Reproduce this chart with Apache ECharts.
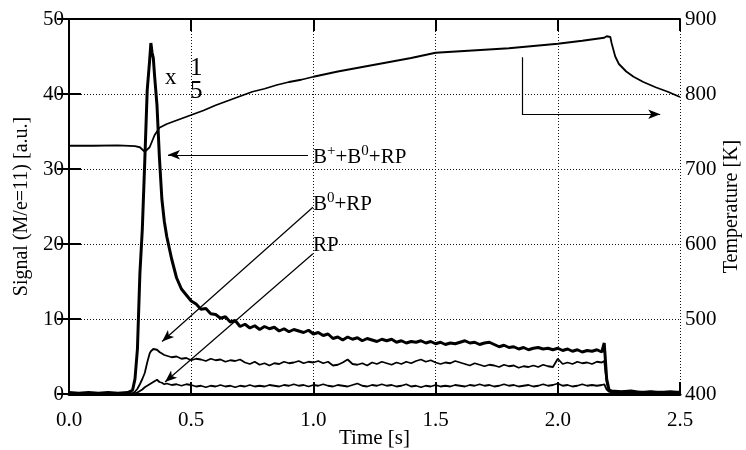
<!DOCTYPE html>
<html>
<head>
<meta charset="utf-8">
<script src="https://cdn.jsdelivr.net/npm/echarts@6/dist/echarts.min.js"></script>
<style>
html,body{margin:0;padding:0;background:#fff;}
#chart{width:746px;height:450px;}
</style>
</head>
<body>
<div id="chart"></div>
<script>
// ---- data ----
var xTicks = [0.0, 0.5, 1.0, 1.5, 2.0, 2.5];
var leftTicks = [0, 10, 20, 30, 40, 50];
var rightTicks = [400, 500, 600, 700, 800, 900];

var sigT = [
  0, 0.04, 0.08, 0.12, 0.16, 0.20, 0.24,
  0.26, 0.27, 0.28, 0.29, 0.30, 0.31, 0.32, 0.33, 0.335, 0.34, 0.345, 0.35, 0.36, 0.37, 0.38, 0.39,
  0.40, 0.42, 0.44, 0.46, 0.48, 0.50, 0.52, 0.54, 0.56, 0.58,
  0.60, 0.62, 0.64, 0.66, 0.68, 0.70, 0.72, 0.74, 0.76, 0.78,
  0.80, 0.82, 0.84, 0.86, 0.88, 0.90, 0.92, 0.94, 0.96, 0.98,
  1.00, 1.02, 1.04, 1.06, 1.08, 1.10, 1.12, 1.14, 1.16, 1.18,
  1.20, 1.22, 1.24, 1.26, 1.28, 1.30, 1.32, 1.34, 1.36, 1.38,
  1.40, 1.42, 1.44, 1.46, 1.48, 1.50, 1.52, 1.54, 1.56, 1.58,
  1.60, 1.62, 1.64, 1.66, 1.68, 1.70, 1.72, 1.74, 1.76, 1.78,
  1.80, 1.82, 1.84, 1.86, 1.88, 1.90, 1.92, 1.94, 1.96, 1.98,
  2.00, 2.02, 2.04, 2.06, 2.08, 2.10, 2.12, 2.14, 2.16, 2.18,
  2.19, 2.20, 2.21, 2.22, 2.26, 2.30, 2.34, 2.38, 2.42, 2.46, 2.50
];

// B+ + B0 + RP  (x 1/5)
var totalV = [
  0.2, 0.1, 0.2, 0.1, 0.2, 0.1, 0.2,
  0.5, 2.0, 6.0, 16.0, 22.0, 31.0, 40.5, 44.5, 46.8, 45.5, 44.8, 42.5, 38.5, 31.5, 26.0, 23.0,
  21.0, 18.0, 15.5, 14.0, 13.2, 12.4, 12.0, 11.3, 11.4, 10.7,
  10.6, 10.1, 10.3, 9.6, 9.8, 9.0, 9.3, 8.8, 9.1, 8.6,
  9.0, 8.7, 8.9, 8.4, 8.7, 8.3, 8.6, 8.4, 8.2, 8.5,
  8.0, 8.2, 7.8, 8.0, 7.4, 7.6, 7.2, 7.6, 7.3, 7.5,
  7.1, 7.4, 7.2, 7.0, 7.3, 7.1, 7.3, 6.9, 7.1, 6.8,
  7.0, 6.9, 7.1, 6.8, 7.0, 6.7, 6.9, 6.6, 6.8, 6.7,
  6.9, 7.1, 6.8, 6.9, 6.6, 6.8, 6.9, 6.6, 6.3, 6.5,
  6.2, 6.3, 6.0, 6.2, 5.9, 6.1, 6.2, 6.0, 6.1, 5.9,
  6.1, 5.8, 6.0, 5.7, 5.9, 5.6, 5.8, 5.7, 5.9, 5.6,
  6.8, 2.0, 0.5, 0.4, 0.3, 0.4, 0.2, 0.3, 0.2, 0.3, 0.2
];

// B0 + RP
var b0rpV = [
  0.1, 0.0, 0.1, 0.0, 0.1, 0.0, 0.1,
  0.1, 0.3, 0.7, 1.3, 2.0, 2.8, 4.2, 5.4, 5.7, 5.9, 6.0, 6.1, 5.9, 5.6, 5.4, 5.2,
  5.1, 4.9, 5.0, 4.7, 4.8, 4.5, 4.7, 4.6, 4.4, 4.7,
  4.5, 4.6, 4.3, 4.5, 4.4, 4.6, 4.2, 4.0, 4.3, 3.9,
  4.1, 3.8, 4.1, 4.0, 4.3, 4.1, 4.2, 4.4, 4.1, 4.3,
  4.2, 4.4, 4.1, 4.3, 3.8, 3.9, 4.2, 4.6, 4.0, 3.9,
  4.1, 3.8, 4.2, 4.0, 4.3, 4.1, 3.9, 4.2, 4.0, 4.3,
  4.1, 4.4, 4.6, 4.3, 4.5, 4.2, 4.0, 4.2, 4.1, 4.4,
  4.2, 4.0, 3.8, 4.1, 3.9, 3.7, 3.9, 3.8, 3.6, 3.9,
  3.7, 3.8, 3.5, 3.7, 3.6, 3.8, 3.6, 3.9, 3.7, 3.6,
  4.7, 4.0, 4.2, 4.0, 4.3, 4.1, 4.2, 4.0, 4.3, 4.2,
  4.4, 1.5, 0.4, 0.3, 0.2, 0.3, 0.2, 0.3, 0.2, 0.2, 0.3
];

// RP
var rpV = [
  0.1, 0.0, 0.1, 0.0, 0.1, 0.0, 0.1,
  0.0, 0.1, 0.2, 0.4, 0.6, 0.9, 1.1, 1.3, 1.4, 1.5, 1.6, 1.7, 1.9, 1.6, 1.5, 1.3,
  1.4, 1.2, 1.3, 1.1, 1.3, 1.2, 1.0, 1.1, 0.9, 1.1,
  1.0, 1.2, 1.0, 1.1, 0.9, 1.1, 1.0, 1.2, 1.0, 1.1,
  1.0, 1.2, 1.1, 1.0, 1.2, 1.1, 1.3, 1.1, 1.2, 1.0,
  1.2, 1.1, 1.3, 1.1, 1.0, 1.2, 1.1, 1.0, 1.2, 1.4,
  1.1, 1.0, 1.2, 1.1, 1.3, 1.1, 1.2, 1.0, 1.1, 1.3,
  1.0, 1.1, 0.9, 1.1, 1.0, 1.2, 1.0, 1.1, 1.0, 1.2,
  1.1, 1.0, 1.2, 1.1, 1.3, 1.1, 1.2, 1.0, 1.1, 1.3,
  1.1, 1.2, 1.0, 1.1, 1.2, 1.0, 1.1, 1.3, 1.1, 1.2,
  1.4, 1.1, 1.2, 1.0, 1.1, 1.3, 1.1, 1.2, 1.1, 1.2,
  1.3, 0.6, 0.3, 0.2, 0.3, 0.2, 0.3, 0.2, 0.3, 0.2, 0.2
];

// Temperature [K]
var tempT = [0, 0.1, 0.2, 0.27, 0.29, 0.31, 0.33, 0.35, 0.37, 0.40,
  0.45, 0.50, 0.55, 0.60, 0.65, 0.70, 0.75, 0.80, 0.85, 0.90,
  0.95, 1.00, 1.10, 1.20, 1.30, 1.40, 1.50, 1.60, 1.70, 1.80,
  1.90, 2.00, 2.10, 2.19, 2.20, 2.215, 2.22, 2.235, 2.25, 2.28,
  2.31, 2.35, 2.40, 2.45, 2.50];
var tempK = [731, 731, 731.5, 730.5, 729, 723, 729, 745, 755, 760,
  766, 772, 778, 785, 791, 797, 803, 807, 812, 816,
  819, 823, 830, 836, 842, 848, 855, 857, 859, 861,
  864, 867, 871, 875, 877, 876, 868, 850, 840, 830,
  823, 816, 809, 803, 796];

// annotation arrows (data coordinates)
var arrowTotal = [[0.978, 31.9], [0.405, 31.9]];
var arrowB0 = [[0.998, 24.9], [0.381, 7.0]];
var arrowRP = [[0.998, 18.7], [0.393, 1.6]];
var arrowTempV = [[1.853, 849], [1.853, 773]];
var arrowTempH = [[1.853, 773], [2.419, 773]];

// ---- build ----
function zip(t, v) { var out = []; for (var i = 0; i < t.length; i++) out.push([t[i], v[i]]); return out; }

var FONT = 'Liberation Serif';
var chart = echarts.init(document.getElementById('chart'));
var axisLine = { show: true, lineStyle: { color: '#000', width: 2 } };
var tick = { show: true, inside: true, length: 12, lineStyle: { color: '#000', width: 2 } };
var dotted = { show: true, lineStyle: { color: '#111', width: 1, type: [1, 2] } };

function lineSeries(data, w, yIdx) {
  return { type: 'line', data: data, yAxisIndex: yIdx || 0, showSymbol: false, symbol: 'none',
    lineStyle: { color: '#000', width: w }, animation: false, silent: true, z: 3 };
}
function arrowLine(a, withHead) {
  return [{ coord: a[0], symbol: 'none' }, { coord: a[1], symbol: withHead ? 'arrow' : 'none' }];
}

var option = {
  backgroundColor: '#fff',
  animation: false,
  grid: { left: 69, right: 66, top: 19, bottom: 56, containLabel: false, outerBoundsMode: 'none' },
  xAxis: [{
    type: 'value', min: 0, max: 2.5, interval: 0.5, position: 'bottom',
    axisLine: { show: true, lineStyle: { color: '#000', width: 3 } }, axisTick: tick, splitLine: dotted,
    axisLabel: { color: '#000', fontFamily: FONT, fontSize: 21, margin: 16,
      formatter: function (v) { return v.toFixed(1); } },
    name: 'Time [s]', nameLocation: 'middle', nameGap: 34, nameMoveOverlap: false,
    nameTextStyle: { color: '#000', fontFamily: FONT, fontSize: 21 }
  }, {
    type: 'value', min: 0, max: 2.5, interval: 0.5, position: 'top',
    axisLine: axisLine, axisTick: tick, splitLine: { show: false }, axisLabel: { show: false }
  }],
  yAxis: [{
    type: 'value', min: 0, max: 50, interval: 10, position: 'left',
    axisLine: axisLine, axisTick: tick, splitLine: dotted,
    axisLabel: { color: '#000', fontFamily: FONT, fontSize: 21, margin: 5 },
    name: 'Signal (M/e=11) [a.u.]', nameLocation: 'middle', nameGap: 37, nameMoveOverlap: false,
    nameTextStyle: { color: '#000', fontFamily: FONT, fontSize: 20 }
  }, {
    type: 'value', min: 400, max: 900, interval: 100, position: 'right',
    axisLine: axisLine, axisTick: tick, splitLine: { show: false },
    axisLabel: { color: '#000', fontFamily: FONT, fontSize: 21, margin: 5 },
    name: 'Temperature [K]', nameLocation: 'middle', nameGap: 42, nameRotate: 90, nameMoveOverlap: false,
    nameTextStyle: { color: '#000', fontFamily: FONT, fontSize: 20 }
  }],
  series: [
    lineSeries(zip(sigT, totalV), 3, 0),
    lineSeries(zip(sigT, b0rpV), 1.8, 0),
    lineSeries(zip(sigT, rpV), 1.8, 0),
    lineSeries(zip(tempT, tempK), 1.8, 1),
    {
      type: 'line', data: [], yAxisIndex: 0, silent: true, animation: false,
      markLine: {
        silent: true, animation: false, symbolSize: [7, 12],
        lineStyle: { color: '#000', width: 1.2, type: 'solid' },
        label: { show: false },
        data: [arrowLine(arrowTotal, true), arrowLine(arrowB0, true), arrowLine(arrowRP, true)]
      }
    },
    {
      type: 'line', data: [], yAxisIndex: 1, silent: true, animation: false,
      markLine: {
        silent: true, animation: false, symbolSize: [7, 12],
        lineStyle: { color: '#000', width: 1.2, type: 'solid' },
        label: { show: false },
        data: [arrowLine(arrowTempV, false), arrowLine(arrowTempH, true)]
      }
    }
  ],
  graphic: [
    { type: 'text', left: 313, top: 144, silent: true, z: 10,
      style: { text: '{n|B}{s|+}{n|+B}{s|0}{n|+RP}', fill: '#000',
        rich: { n: { fontFamily: FONT, fontSize: 21, lineHeight: 24, verticalAlign: 'bottom' },
                s: { fontFamily: FONT, fontSize: 15, lineHeight: 16, verticalAlign: 'top' } } } },
    { type: 'text', left: 313, top: 191, silent: true, z: 10,
      style: { text: '{n|B}{s|0}{n|+RP}', fill: '#000',
        rich: { n: { fontFamily: FONT, fontSize: 21, lineHeight: 24, verticalAlign: 'bottom' },
                s: { fontFamily: FONT, fontSize: 15, lineHeight: 16, verticalAlign: 'top' } } } },
    { type: 'text', left: 313, top: 235, silent: true, z: 10,
      style: { text: 'RP', fill: '#000', font: '21px "Liberation Serif"' } },
    { type: 'text', left: 165, top: 66, silent: true, z: 10,
      style: { text: 'x', fill: '#000', font: '23px "Liberation Serif"' } },
    { type: 'text', left: 190, top: 56, silent: true, z: 10,
      style: { text: '1', fill: '#000', font: '25px "Liberation Serif"' } },
    { type: 'text', left: 190, top: 79, silent: true, z: 10,
      style: { text: '5', fill: '#000', font: '25px "Liberation Serif"' } }
  ]
};
chart.setOption(option);
</script>
</body>
</html>
